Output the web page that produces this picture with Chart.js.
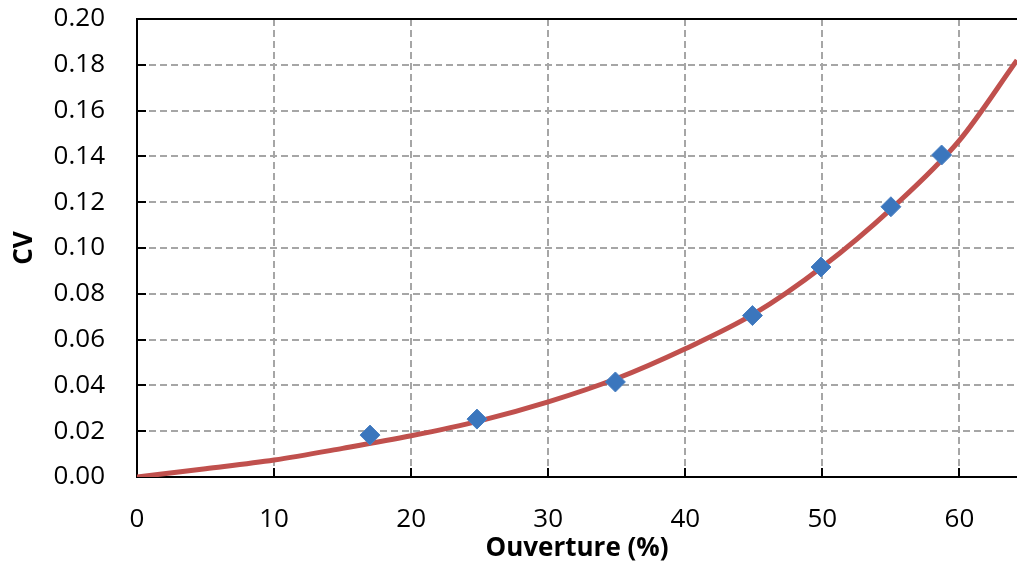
<!DOCTYPE html>
<html>
<head>
<meta charset="utf-8">
<script src="https://cdn.jsdelivr.net/npm/chart.js@4"></script>
<style>
  html, body { margin: 0; padding: 0; background: #fff; overflow: hidden; }
  #wrap { width: 1017px; height: 565px; }
  canvas { display: block; }
</style>
</head>
<body>
<div id="wrap"><canvas id="cvChart" width="1017" height="565"></canvas></div>
<script>
// fitted curve (Ouverture % -> CV)
const curveX = [0, 5, 10, 15, 20, 25, 30, 35, 40, 45, 50, 55, 60, 64.2];
const curveY = [0, 0.0036, 0.0074, 0.0125, 0.018, 0.0245, 0.0328, 0.043, 0.056, 0.0712, 0.0918, 0.117, 0.147, 0.182];

// measured points
const measX = [17, 24.8, 34.9, 44.9, 49.9, 55.0, 58.7];
const measY = [0.0183, 0.0253, 0.0415, 0.0705, 0.0917, 0.118, 0.1406];

const xTicks = [0, 10, 20, 30, 40, 50, 60];
const yTicks = [0, 0.02, 0.04, 0.06, 0.08, 0.10, 0.12, 0.14, 0.16, 0.18, 0.20];

const FONT = "'Open Sans', sans-serif";

// little black tick marks pointing into the plot + top frame line
const frameTicks = {
  id: 'frameTicks',
  afterDraw(chart) {
    const { ctx, chartArea: a, scales: { x, y } } = chart;
    ctx.save();
    ctx.strokeStyle = '#000';
    ctx.lineWidth = 2;
    ctx.beginPath();
    xTicks.forEach(v => {
      if (v === 0) return;
      const px = Math.round(x.getPixelForValue(v));
      ctx.moveTo(px, a.bottom);
      ctx.lineTo(px, a.bottom - 9);
    });
    yTicks.forEach(v => {
      if (v === 0) return;
      const py = Math.round(y.getPixelForValue(v));
      ctx.moveTo(a.left, py);
      ctx.lineTo(a.left + 9, py);
    });
    ctx.moveTo(a.left - 1, a.top);
    ctx.lineTo(a.right, a.top);
    ctx.stroke();
    ctx.restore();
  }
};

new Chart(document.getElementById('cvChart'), {
  type: 'scatter',
  data: {
    datasets: [
      {
        label: 'Mesures',
        data: measX.map((v, i) => ({ x: v, y: measY[i] })),
        showLine: false,
        pointStyle: 'rectRot',
        pointRadius: 10,
        backgroundColor: '#3b76bd',
        borderColor: '#4a80c2',
        borderWidth: 1,
        order: 0
      },
      {
        label: 'Courbe',
        data: curveX.map((v, i) => ({ x: v, y: curveY[i] })),
        showLine: true,
        pointRadius: 0,
        borderColor: '#c0504d',
        borderWidth: 5,
        cubicInterpolationMode: 'monotone',
        order: 1
      }
    ]
  },
  options: {
    responsive: false,
    animation: false,
    layout: { autoPadding: false, padding: { top: 19, right: 0, left: 0, bottom: 0 } },
    plugins: { legend: { display: false }, tooltip: { enabled: false } },
    scales: {
      x: {
        type: 'linear',
        min: 0,
        max: 64.2,
        afterFit: s => { s.height = 88; s.paddingLeft = 0; s.paddingRight = 0; },
        afterBuildTicks: s => { s.ticks = xTicks.map(v => ({ value: v })); },
        ticks: {
          includeBounds: false,
          padding: 27,
          color: '#000',
          font: { family: FONT, size: 26 }
        },
        grid: {
          color: '#a6a6a6',
          lineWidth: 2,
          drawTicks: false
        },
        border: { color: '#000', width: 2, dash: [7, 4] },
        title: {
          display: true,
          text: 'Ouverture (%)',
          color: '#000',
          font: { family: FONT, size: 26, weight: 'bold' },
          padding: { top: 0, bottom: 1 }
        }
      },
      y: {
        type: 'linear',
        min: 0,
        max: 0.2,
        afterFit: s => { s.width = 137; s.paddingTop = 0; s.paddingBottom = 0; },
        afterBuildTicks: s => { s.ticks = yTicks.map(v => ({ value: v })); },
        ticks: {
          padding: 32,
          color: '#000',
          font: { family: FONT, size: 26 },
          callback: v => Number(v).toFixed(2)
        },
        grid: {
          color: '#a6a6a6',
          lineWidth: 2,
          drawTicks: false
        },
        border: { color: '#000', width: 2, dash: [7, 4] },
        title: {
          display: true,
          text: 'CV',
          color: '#000',
          font: { family: FONT, size: 26, weight: 'bold' },
          padding: { top: 9, bottom: 0 }
        }
      }
    }
  },
  plugins: [frameTicks]
});
</script>
</body>
</html>
